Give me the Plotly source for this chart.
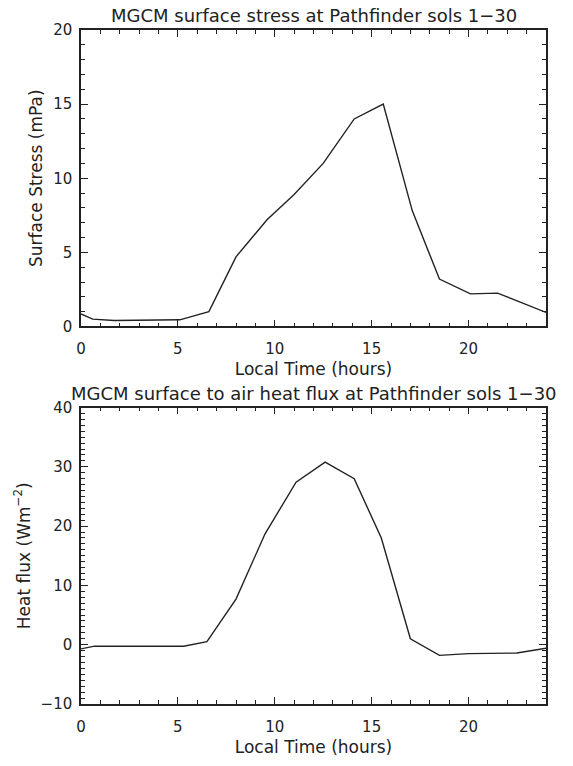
import plotly.graph_objects as go

# Surface stress (mPa) vs local time (hours)
stress_time = [0.0, 0.6, 1.7, 3.0, 5.1, 6.6, 8.0, 9.6, 11.0, 12.5, 14.1, 15.6, 17.1, 18.5, 20.1, 21.5, 24.0]
stress_val = [0.85, 0.5, 0.4, 0.4, 0.45, 1.0, 4.7, 7.2, 8.9, 11.0, 14.0, 15.0, 7.8, 3.2, 2.2, 2.25, 0.95]

# Surface-to-air heat flux (W m^-2) vs local time (hours)
flux_time = [0.0, 0.7, 5.3, 6.5, 8.0, 9.5, 11.1, 12.6, 14.1, 15.5, 17.0, 18.5, 20.0, 21.5, 22.5, 24.0]
flux_val = [-0.7, -0.25, -0.25, 0.5, 7.7, 18.7, 27.4, 30.8, 28.0, 18.0, 1.0, -1.8, -1.5, -1.5, -1.4, -0.6]

title_top = "MGCM surface stress at Pathfinder sols 1\u221230"
title_bot = "MGCM surface to air heat flux at Pathfinder sols 1\u221230"
xlabel = "Local Time (hours)"
ylabel_top = "Surface Stress (mPa)"
ylabel_bot = "Heat flux (Wm<sup>\u22122</sup>)"

FONT = "DejaVu Sans"
INK = "#222222"

fig = go.Figure()
fig.add_trace(go.Scatter(x=stress_time, y=stress_val, mode="lines",
                         line=dict(color=INK, width=1.4), xaxis="x", yaxis="y",
                         showlegend=False))
fig.add_trace(go.Scatter(x=flux_time, y=flux_val, mode="lines",
                         line=dict(color=INK, width=1.4), xaxis="x2", yaxis="y2",
                         showlegend=False))

common_x = dict(range=[0, 24], tickmode="array", tickvals=[0, 5, 10, 15, 20],
                ticks="inside", ticklen=7, tickwidth=1, tickcolor=INK,
                showline=True, linecolor=INK, linewidth=1.5, mirror="allticks",
                showgrid=False, zeroline=False,
                minor=dict(dtick=1, ticks="inside", ticklen=4, tickcolor=INK, showgrid=False),
                tickfont=dict(family=FONT, size=15, color=INK),
                ticklabelstandoff=8,
                title=dict(text=xlabel, font=dict(family=FONT, size=17, color=INK), standoff=6))

def yaxis(rng, vals, minor_dtick, title, domain, anchor):
    return dict(range=rng, tickmode="array", tickvals=vals, domain=domain, anchor=anchor,
                ticks="inside", ticklen=7, tickwidth=1, tickcolor=INK,
                showline=True, linecolor=INK, linewidth=1.5, mirror="allticks",
                showgrid=False, zeroline=False,
                minor=dict(dtick=minor_dtick, ticks="inside", ticklen=4, tickcolor=INK, showgrid=False),
                tickfont=dict(family=FONT, size=15, color=INK),
                ticklabelstandoff=4,
                title=dict(text=title, font=dict(family=FONT, size=17, color=INK), standoff=6))

fig.update_layout(
    width=573, height=766,
    margin=dict(l=81, r=27, t=30, b=54),
    paper_bgcolor="white", plot_bgcolor="white",
    xaxis=dict(common_x, domain=[0, 1], anchor="y"),
    xaxis2=dict(common_x, domain=[0, 1], anchor="y2"),
    yaxis=yaxis([0, 20], [0, 5, 10, 15, 20], 1, ylabel_top, [0.5601, 1.0], "x"),
    yaxis2=yaxis([-10, 40], [-10, 0, 10, 20, 30, 40], 1, ylabel_bot, [0.0, 0.4399], "x2"),
    annotations=[
        dict(text=title_top, x=0.5, y=1.0, xref="paper", yref="paper",
             xanchor="center", yanchor="bottom", yshift=2, showarrow=False,
             font=dict(family=FONT, size=18, color=INK)),
        dict(text=title_bot, x=0.5, y=0.4399, xref="paper", yref="paper",
             xanchor="center", yanchor="bottom", yshift=2, showarrow=False,
             font=dict(family=FONT, size=18, color=INK)),
    ],
)

fig.write_html("out.html")
